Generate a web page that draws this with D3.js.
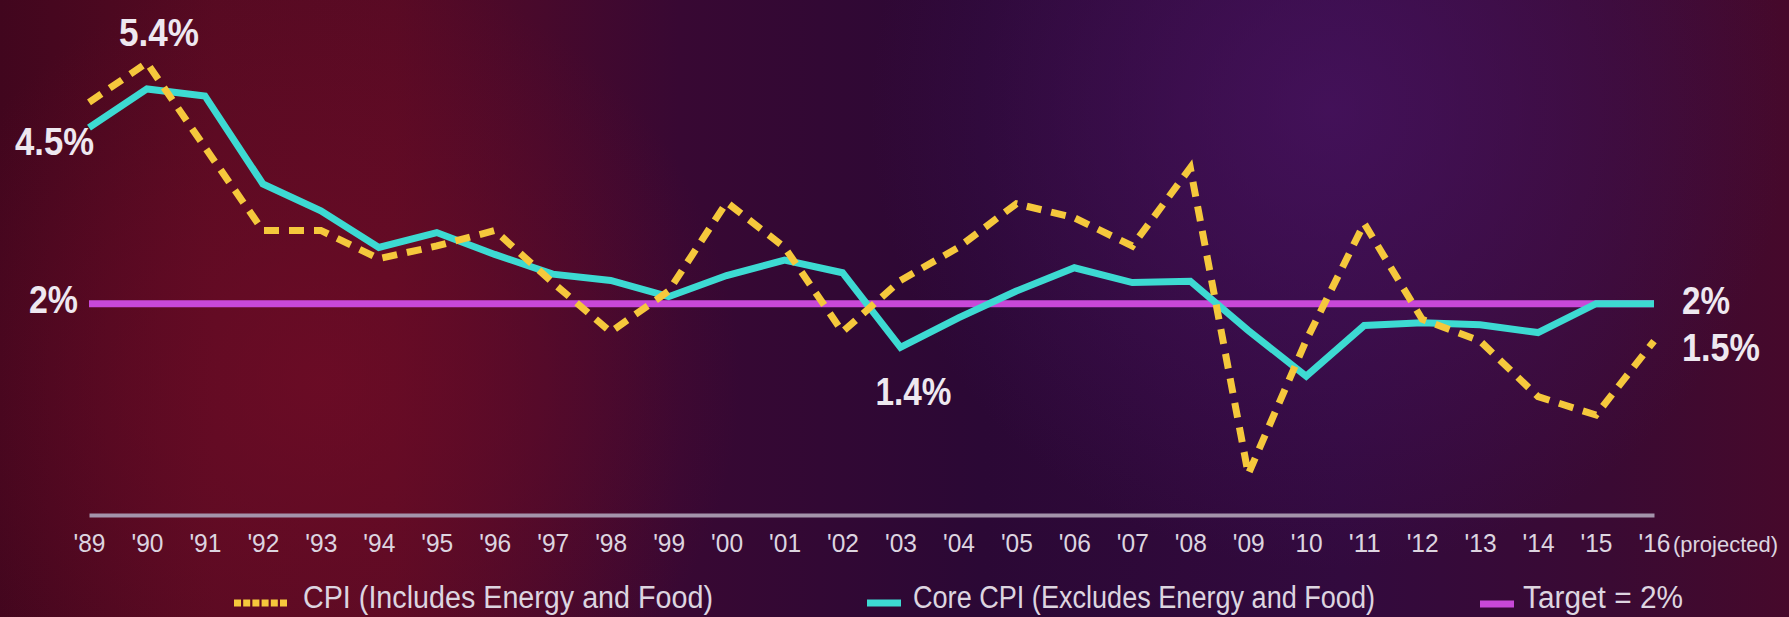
<!DOCTYPE html>
<html>
<head>
<meta charset="utf-8">
<script src="https://cdn.jsdelivr.net/npm/d3@7"></script>
<style>
  html, body { margin: 0; padding: 0; background: #2c0836; }
  svg { display: block; }
</style>
</head>
<body>
<div id="chart"></div>
<script>
var years = ["'89","'90","'91","'92","'93","'94","'95","'96","'97","'98","'99","'00","'01","'02",
    "'03","'04","'05","'06","'07","'08","'09","'10","'11","'12","'13","'14","'15","'16"];
var cpi = [4.86, 5.42, 4.22, 3.04, 3.04, 2.64, 2.82, 3.04, 2.3, 1.6, 2.18, 3.44, 2.8, 1.6,
    2.33, 2.8, 3.42, 3.22, 2.82, 3.93, -0.42, 1.48, 3.14, 1.78, 1.47, 0.68, 0.42, 1.47];
var core = [4.5, 5.05, 4.95, 3.7, 3.32, 2.8, 3.01, 2.7, 2.42, 2.33, 2.1, 2.4, 2.62, 2.44,
    1.38, 1.8, 2.18, 2.51, 2.3, 2.32, 1.62, 0.97, 1.69, 1.73, 1.7, 1.59, 2.0, 2.0];
var target = 2;
var lastNote = "(projected)";
var legendNames = ["CPI (Includes Energy and Food)", "Core CPI (Excludes Energy and Food)", "Target = 2%"];
var calloutText = ["5.4%", "4.5%", "1.4%", "2%", "2%", "1.5%"];
var calloutSeries = ["cpi", "core", "core", "target", "core", "cpi"];
var calloutIndex = [1, 0, 14, 0, 27, 27];

var width = 1789;
var height = 617;
var font = "'Liberation Sans', Arial, sans-serif";

var svg = d3.select("#chart")
    .append("svg")
    .attr("width", width)
    .attr("height", height)
    .attr("font-family", font);

// background
var defs = svg.append("defs");
var bg = defs.append("linearGradient").attr("id", "bg")
    .attr("x1", 0).attr("x2", 1).attr("y1", 0).attr("y2", 0);
[[0, "#41061e"], [0.12, "#560a22"], [0.22, "#580a24"], [0.38, "#380833"], [0.55, "#2b0835"],
 [0.75, "#320a3e"], [0.9, "#3a0a33"], [1, "#46092b"]].forEach(function(s){
    bg.append("stop").attr("offset", s[0]).attr("stop-color", s[1]);
});
var glowRed = defs.append("radialGradient").attr("id", "glowRed")
    .attr("gradientUnits", "userSpaceOnUse").attr("cx", 320).attr("cy", 380).attr("r", 420);
glowRed.append("stop").attr("offset", 0).attr("stop-color", "#720c26").attr("stop-opacity", 0.7);
glowRed.append("stop").attr("offset", 1).attr("stop-color", "#720c26").attr("stop-opacity", 0);
var glowPurple = defs.append("radialGradient").attr("id", "glowPurple")
    .attr("gradientUnits", "userSpaceOnUse").attr("cx", 1330).attr("cy", 110).attr("r", 460);
glowPurple.append("stop").attr("offset", 0).attr("stop-color", "#4a1464").attr("stop-opacity", 0.7);
glowPurple.append("stop").attr("offset", 1).attr("stop-color", "#4a1464").attr("stop-opacity", 0);

svg.append("rect").attr("width", width).attr("height", height).attr("fill", "url(#bg)");
svg.append("rect").attr("width", width).attr("height", height).attr("fill", "url(#glowRed)");
svg.append("rect").attr("width", width).attr("height", height).attr("fill", "url(#glowPurple)");

var x = d3.scalePoint()
    .domain(d3.range(years.length))
    .range([89, 1654]);
var y = d3.scaleLinear()
    .domain([-1, 6])
    .range([515, 22]);

// x axis
var axis = svg.append("g")
    .attr("transform", "translate(0," + y(-1) + ")")
    .call(d3.axisBottom(x).tickSize(0).tickPadding(19).tickFormat(function(i){ return years[i]; }));
axis.select(".domain").attr("stroke", "#a494ab").attr("stroke-width", 4);
axis.selectAll("text")
    .attr("fill", "#ddd5e0")
    .attr("font-size", 25)
    .attr("font-family", font)
    .attr("textLength", 32)
    .attr("lengthAdjust", "spacingAndGlyphs");
svg.append("text")
    .attr("x", x(27) + 19)
    .attr("y", 552)
    .attr("fill", "#ddd5e0")
    .attr("font-size", 22.5)
    .attr("textLength", 105)
    .attr("lengthAdjust", "spacingAndGlyphs")
    .text(lastNote);

var line = d3.line()
    .x(function(d, i){ return x(i); })
    .y(function(d){ return y(d); });
var targetSeries = years.map(function(){ return target; });

// target line
svg.append("path")
    .datum(targetSeries)
    .attr("d", line)
    .attr("fill", "none")
    .attr("stroke", "#c848d8")
    .attr("stroke-width", 7);

// core CPI
svg.append("path")
    .datum(core)
    .attr("d", line)
    .attr("fill", "none")
    .attr("stroke", "#3ddad2")
    .attr("stroke-width", 7);

// CPI dashed
svg.append("path")
    .datum(cpi)
    .attr("d", line)
    .attr("fill", "none")
    .attr("stroke", "#f5c83c")
    .attr("stroke-width", 7)
    .attr("stroke-dasharray", "15,10");

// callout labels: offset from the point, anchor, width
var seriesOf = {cpi: cpi, core: core, target: targetSeries};
var calloutLayout = [
    [12, -17, "middle", 80],
    [5, 27, "end", 79],
    [13, 58, "middle", 76],
    [-11, 9, "end", 49],
    [28, 10, "start", 48],
    [28, 20, "start", 78]
];
calloutText.forEach(function(t, k){
    var i = calloutIndex[k];
    var px = x(i), py = y(seriesOf[calloutSeries[k]][i]);
    var L = calloutLayout[k];
    svg.append("text")
        .attr("x", px + L[0])
        .attr("y", py + L[1])
        .attr("text-anchor", L[2])
        .attr("fill", "#eee8f0")
        .attr("font-size", 39)
        .attr("font-weight", "bold")
        .attr("textLength", L[3])
        .attr("lengthAdjust", "spacingAndGlyphs")
        .text(t);
});

// legend
var legend = svg.append("g").attr("font-size", 31).attr("fill", "#ddd5e0");
legend.append("line")
    .attr("x1", 234).attr("x2", 287)
    .attr("y1", 603).attr("y2", 603)
    .attr("stroke", "#f5c83c").attr("stroke-width", 7)
    .attr("stroke-dasharray", "7,2.2");
legend.append("line")
    .attr("x1", 867).attr("x2", 901)
    .attr("y1", 603).attr("y2", 603)
    .attr("stroke", "#3ddad2").attr("stroke-width", 7);
legend.append("line")
    .attr("x1", 1480).attr("x2", 1514)
    .attr("y1", 604).attr("y2", 604)
    .attr("stroke", "#c848d8").attr("stroke-width", 7);
var legendTextX = [303, 913, 1523];
var legendTextW = [410, 462, 160];
legend.selectAll("text.lg")
    .data(legendNames)
    .enter()
    .append("text")
    .attr("class", "lg")
    .attr("x", function(d, i){ return legendTextX[i]; })
    .attr("y", 608)
    .attr("textLength", function(d, i){ return legendTextW[i]; })
    .attr("lengthAdjust", "spacingAndGlyphs")
    .text(function(d){ return d; });
</script>
</body>
</html>
